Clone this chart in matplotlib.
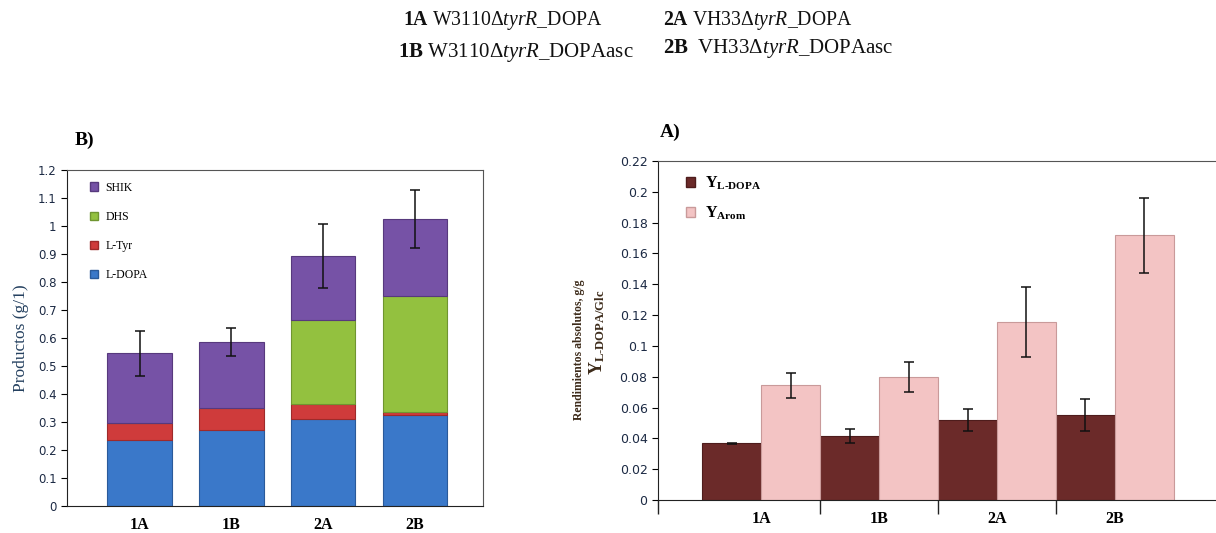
import numpy as np
import matplotlib.pyplot as plt
from matplotlib.patches import Patch
from matplotlib.ticker import FormatStrFormatter

plt.rcParams['font.family'] = 'Liberation Serif'
plt.rcParams['mathtext.fontset'] = 'custom'
plt.rcParams['mathtext.rm'] = 'Liberation Serif'
plt.rcParams['mathtext.it'] = 'Liberation Serif:italic'
plt.rcParams['mathtext.bf'] = 'Liberation Serif:bold'

# datos
cepas = ['1A', '1B', '2A', '2B']

# B) productos (g/l), apilados
ldopa = [0.236, 0.270, 0.310, 0.325]
ltyr = [0.059, 0.080, 0.055, 0.010]
dhs = [0.0, 0.0, 0.300, 0.415]
shik = [0.250, 0.235, 0.228, 0.275]
err_total = [0.080, 0.050, 0.113, 0.103]

# A) rendimientos g/g
y_ldopa = [0.0368, 0.0415, 0.0519, 0.0550]
err_ldopa = [0.0005, 0.0045, 0.0070, 0.0104]
y_arom = [0.0744, 0.0800, 0.1155, 0.1718]
err_arom = [0.0080, 0.0097, 0.0230, 0.0243]

W, H = 1216, 533
fig = plt.figure(figsize=(W / 100, H / 100), dpi=100)

def box(l, t, r, b):
    return [l / W, (H - b) / H, (r - l) / W, (b - t) / H]

tick_col = '#1c2a44'

# ---- encabezado ----
hdr = dict(fontsize=14.2, va='center', ha='left', color='#111111')
fig.text(403 / W, 1 - 20 / H, r'$\mathbf{1A}$ W3110Δ$\mathit{tyrR}$_DOPA', **hdr)
fig.text(398 / W, 1 - 52 / H, r'$\mathbf{1B}$ W3110Δ$\mathit{tyrR}$_DOPAasc', fontsize=15,
         va='center', ha='left', color='#111111')
fig.text(663 / W, 1 - 20 / H, r'$\mathbf{2A}$ VH33Δ$\mathit{tyrR}$_DOPA', **hdr)
fig.text(663 / W, 1 - 49 / H, r'$\mathbf{2B}$  VH33Δ$\mathit{tyrR}$_DOPAasc', fontsize=15,
         va='center', ha='left', color='#111111')

# ---- B) barras apiladas ----
ax1 = fig.add_axes(box(67, 170, 483, 506))
x = np.arange(len(cepas))
w = 0.70
colores = ['#3a78c9', '#cf3b3b', '#93c13f', '#7652a6']
bordes = ['#2a5a9a', '#9e2a2a', '#6f9530', '#57397d']
series = [ldopa, ltyr, dhs, shik]
nombres = ['L-DOPA', 'L-Tyr', 'DHS', 'SHIK']
base = np.zeros(len(cepas))
for vals, c, e in zip(series, colores, bordes):
    ax1.bar(x, vals, w, bottom=base, color=c, edgecolor=e, linewidth=0.8, zorder=2)
    base = base + np.array(vals)
ax1.errorbar(x, base, yerr=err_total, fmt='none', ecolor='#111111', elinewidth=1.1,
             capsize=3.5, capthick=1.1, zorder=3)
ax1.set_xlim(-0.79, 3.74)
ax1.set_ylim(0, 1.2)
ax1.set_yticks(np.arange(0, 1.21, 0.1))
ax1.yaxis.set_major_formatter(FormatStrFormatter('%g'))
ax1.set_xticks(x)
ax1.set_xticklabels(cepas, fontsize=11.5, fontweight='bold')
ax1.tick_params(axis='x', length=0, pad=8)
ax1.tick_params(axis='y', length=4, labelsize=8.5, labelcolor=tick_col, direction='out')
for lab in ax1.get_yticklabels():
    lab.set_family('DejaVu Sans')
for s in ax1.spines.values():
    s.set_color('#555555')
ax1.spines['left'].set_color('#222222')
ax1.spines['bottom'].set_color('#222222')
ax1.set_ylabel('Productos (g/1)', fontsize=12.5, color='#24405f', labelpad=6)
handles = [Patch(facecolor=c, edgecolor=e) for c, e in zip(colores, bordes)][::-1]
ax1.legend(handles, nombres[::-1], loc='upper left', bbox_to_anchor=(0.055, 0.965),
           frameon=False, fontsize=8.5, handlelength=0.7, handleheight=0.7,
           labelspacing=1.45, handletextpad=0.6, borderpad=0, borderaxespad=0)
fig.text(75 / W, 1 - 140 / H, 'B)', fontsize=14, fontweight='bold', va='center')

# ---- A) rendimientos ----
ax2 = fig.add_axes(box(658, 161, 1216, 500))
bw = 0.5
ax2.bar(x - bw / 2, y_ldopa, bw, color='#6b2a29', edgecolor='#4e1c1c', linewidth=0.8, zorder=2)
ax2.bar(x + bw / 2, y_arom, bw, color='#f3c4c4', edgecolor='#c99a9a', linewidth=0.8, zorder=2)
ax2.errorbar(x - bw / 2, y_ldopa, yerr=err_ldopa, fmt='none', ecolor='#111111',
             elinewidth=1.1, capsize=3.5, capthick=1.1, zorder=3)
ax2.errorbar(x + bw / 2, y_arom, yerr=err_arom, fmt='none', ecolor='#111111',
             elinewidth=1.1, capsize=3.5, capthick=1.1, zorder=3)
ax2.set_xlim(-0.873, 3.856)
ax2.set_ylim(0, 0.22)
ax2.set_yticks(np.arange(0, 0.221, 0.02))
ax2.yaxis.set_major_formatter(FormatStrFormatter('%g'))
ax2.set_xticks(x)
ax2.set_xticklabels(cepas, fontsize=11.5, fontweight='bold')
ax2.set_xticks([-0.873, 0.5, 1.5, 2.5], minor=True)
ax2.tick_params(axis='x', which='major', length=0, pad=8)
ax2.tick_params(axis='x', which='minor', length=10, width=1, color='#222222', direction='out')
ax2.tick_params(axis='y', length=4, labelsize=9, labelcolor=tick_col, direction='out')
for lab in ax2.get_yticklabels():
    lab.set_family('DejaVu Sans')
ax2.spines['right'].set_visible(False)
ax2.spines['top'].set_color('#555555')
ax2.spines['left'].set_color('#222222')
ax2.spines['bottom'].set_color('#222222')
handles2 = [Patch(facecolor='#6b2a29', edgecolor='#4e1c1c'),
            Patch(facecolor='#f3c4c4', edgecolor='#c99a9a')]
labels2 = [r'$\mathbf{Y}_{\mathbf{L‐DOPA}}$', r'$\mathbf{Y}_{\mathbf{Arom}}$']
ax2.legend(handles2, labels2, loc='upper left', bbox_to_anchor=(0.05, 0.96),
           frameon=False, fontsize=11.5, handlelength=0.6, handleheight=0.6,
           labelspacing=0.8, handletextpad=0.6, borderpad=0, borderaxespad=0)
fig.text(660 / W, 1 - 132 / H, 'A)', fontsize=14, fontweight='bold', va='center')

lab_col = '#3d2b1a'
fig.text(579 / W, 1 - 350 / H, 'Rendimientos absolutos, g/g', rotation=90,
         fontsize=8.5, fontweight='bold', color=lab_col, ha='center', va='center')
fig.text(597 / W, 1 - 332 / H, r'$\mathbf{Y}_{\mathbf{L‐DOPA/Glc}}$', rotation=90,
         fontsize=13, color=lab_col, ha='center', va='center')

fig.savefig('out.png', dpi=100)
